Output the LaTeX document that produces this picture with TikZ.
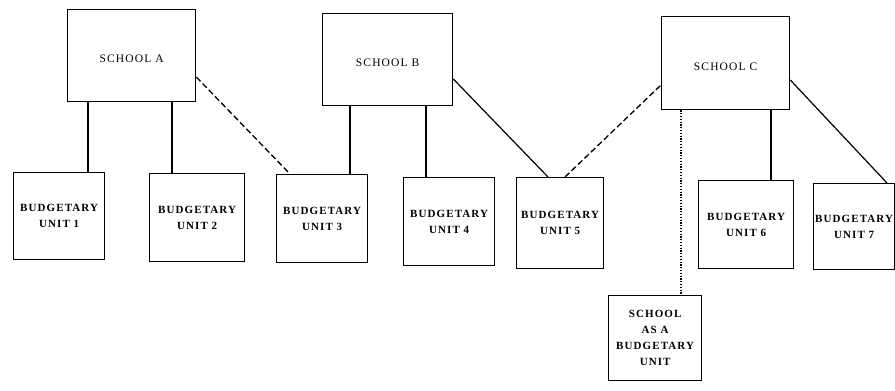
\documentclass[tikz,border=0pt]{standalone}
\usepackage{fontspec}
\setmainfont{Liberation Serif}
\newfontfamily\labfont[LetterSpace=10]{Liberation Serif}
\begin{document}
\begin{tikzpicture}[x=1pt,y=-1pt,
  box/.style={draw, line width=1.3pt, anchor=north west, inner sep=0pt, align=center},
  school/.style={box, font=\labfont\fontsize{11.5}{14}\selectfont, text height=16pt, text depth=2pt},
  unit/.style={box, font=\labfont\bfseries\fontsize{11}{16}\selectfont},
  conn/.style={line width=1.2pt},
  dashconn/.style={line width=1.3pt, dash pattern=on 6pt off 3pt},
  dotconn/.style={line width=1.3pt, dash pattern=on 1.2pt off 1.6pt}]
\useasboundingbox (0,0) rectangle (895,391);
% schools
\node[school, minimum width=128pt, minimum height=92pt] (A) at (67,9) {SCHOOL A};
\node[school, minimum width=130pt, minimum height=92pt] (B) at (322,13) {SCHOOL B};
\node[school, minimum width=128pt, minimum height=93pt] (C) at (661,16) {SCHOOL C};
% units
\node[unit, minimum width=91pt, minimum height=87pt] (U1) at (13,172) {BUDGETARY\\UNIT 1};
\node[unit, minimum width=95pt, minimum height=88pt] (U2) at (149,173) {BUDGETARY\\UNIT 2};
\node[unit, minimum width=91pt, minimum height=88pt] (U3) at (276,174) {BUDGETARY\\UNIT 3};
\node[unit, minimum width=91pt, minimum height=88pt] (U4) at (403,177) {BUDGETARY\\UNIT 4};
\node[unit, minimum width=87pt, minimum height=91pt] (U5) at (516,177) {BUDGETARY\\UNIT 5};
\node[unit, minimum width=95pt, minimum height=88pt] (U6) at (698,180) {BUDGETARY\\UNIT 6};
\node[unit, minimum width=81pt, minimum height=86pt] (U7) at (813,183) {BUDGETARY\\UNIT 7};
\node[unit, minimum width=93pt, minimum height=85pt] (S) at (608,295) {SCHOOL\\AS A\\BUDGETARY\\UNIT};
% connectors school A
\draw[conn] ([xshift=21pt]A.south west) -- ([xshift=21pt]A.south west |- U1.north);
\draw[conn] ([xshift=105pt]A.south west) -- ([xshift=105pt]A.south west |- U2.north);
\draw[dashconn] ([yshift=-68pt]A.north east) -- ([xshift=14pt]U3.north west);
% connectors school B
\draw[conn] ([xshift=28pt]B.south west) -- ([xshift=28pt]B.south west |- U3.north);
\draw[conn] ([xshift=104pt]B.south west) -- ([xshift=104pt]B.south west |- U4.north);
\draw[conn] ([yshift=-66pt]B.north east) -- ([xshift=32pt]U5.north west);
% connectors school C
\draw[dashconn] ([xshift=49pt]U5.north west) -- ([yshift=-69pt]C.north west);
\draw[dotconn] ([xshift=20pt]C.south west) -- ([xshift=20pt]C.south west |- S.north);
\draw[conn] ([xshift=110pt]C.south west) -- ([xshift=110pt]C.south west |- U6.north);
\draw[conn] ([yshift=-64pt]C.north east) -- ([xshift=74pt]U7.north west);
\end{tikzpicture}
\end{document}
